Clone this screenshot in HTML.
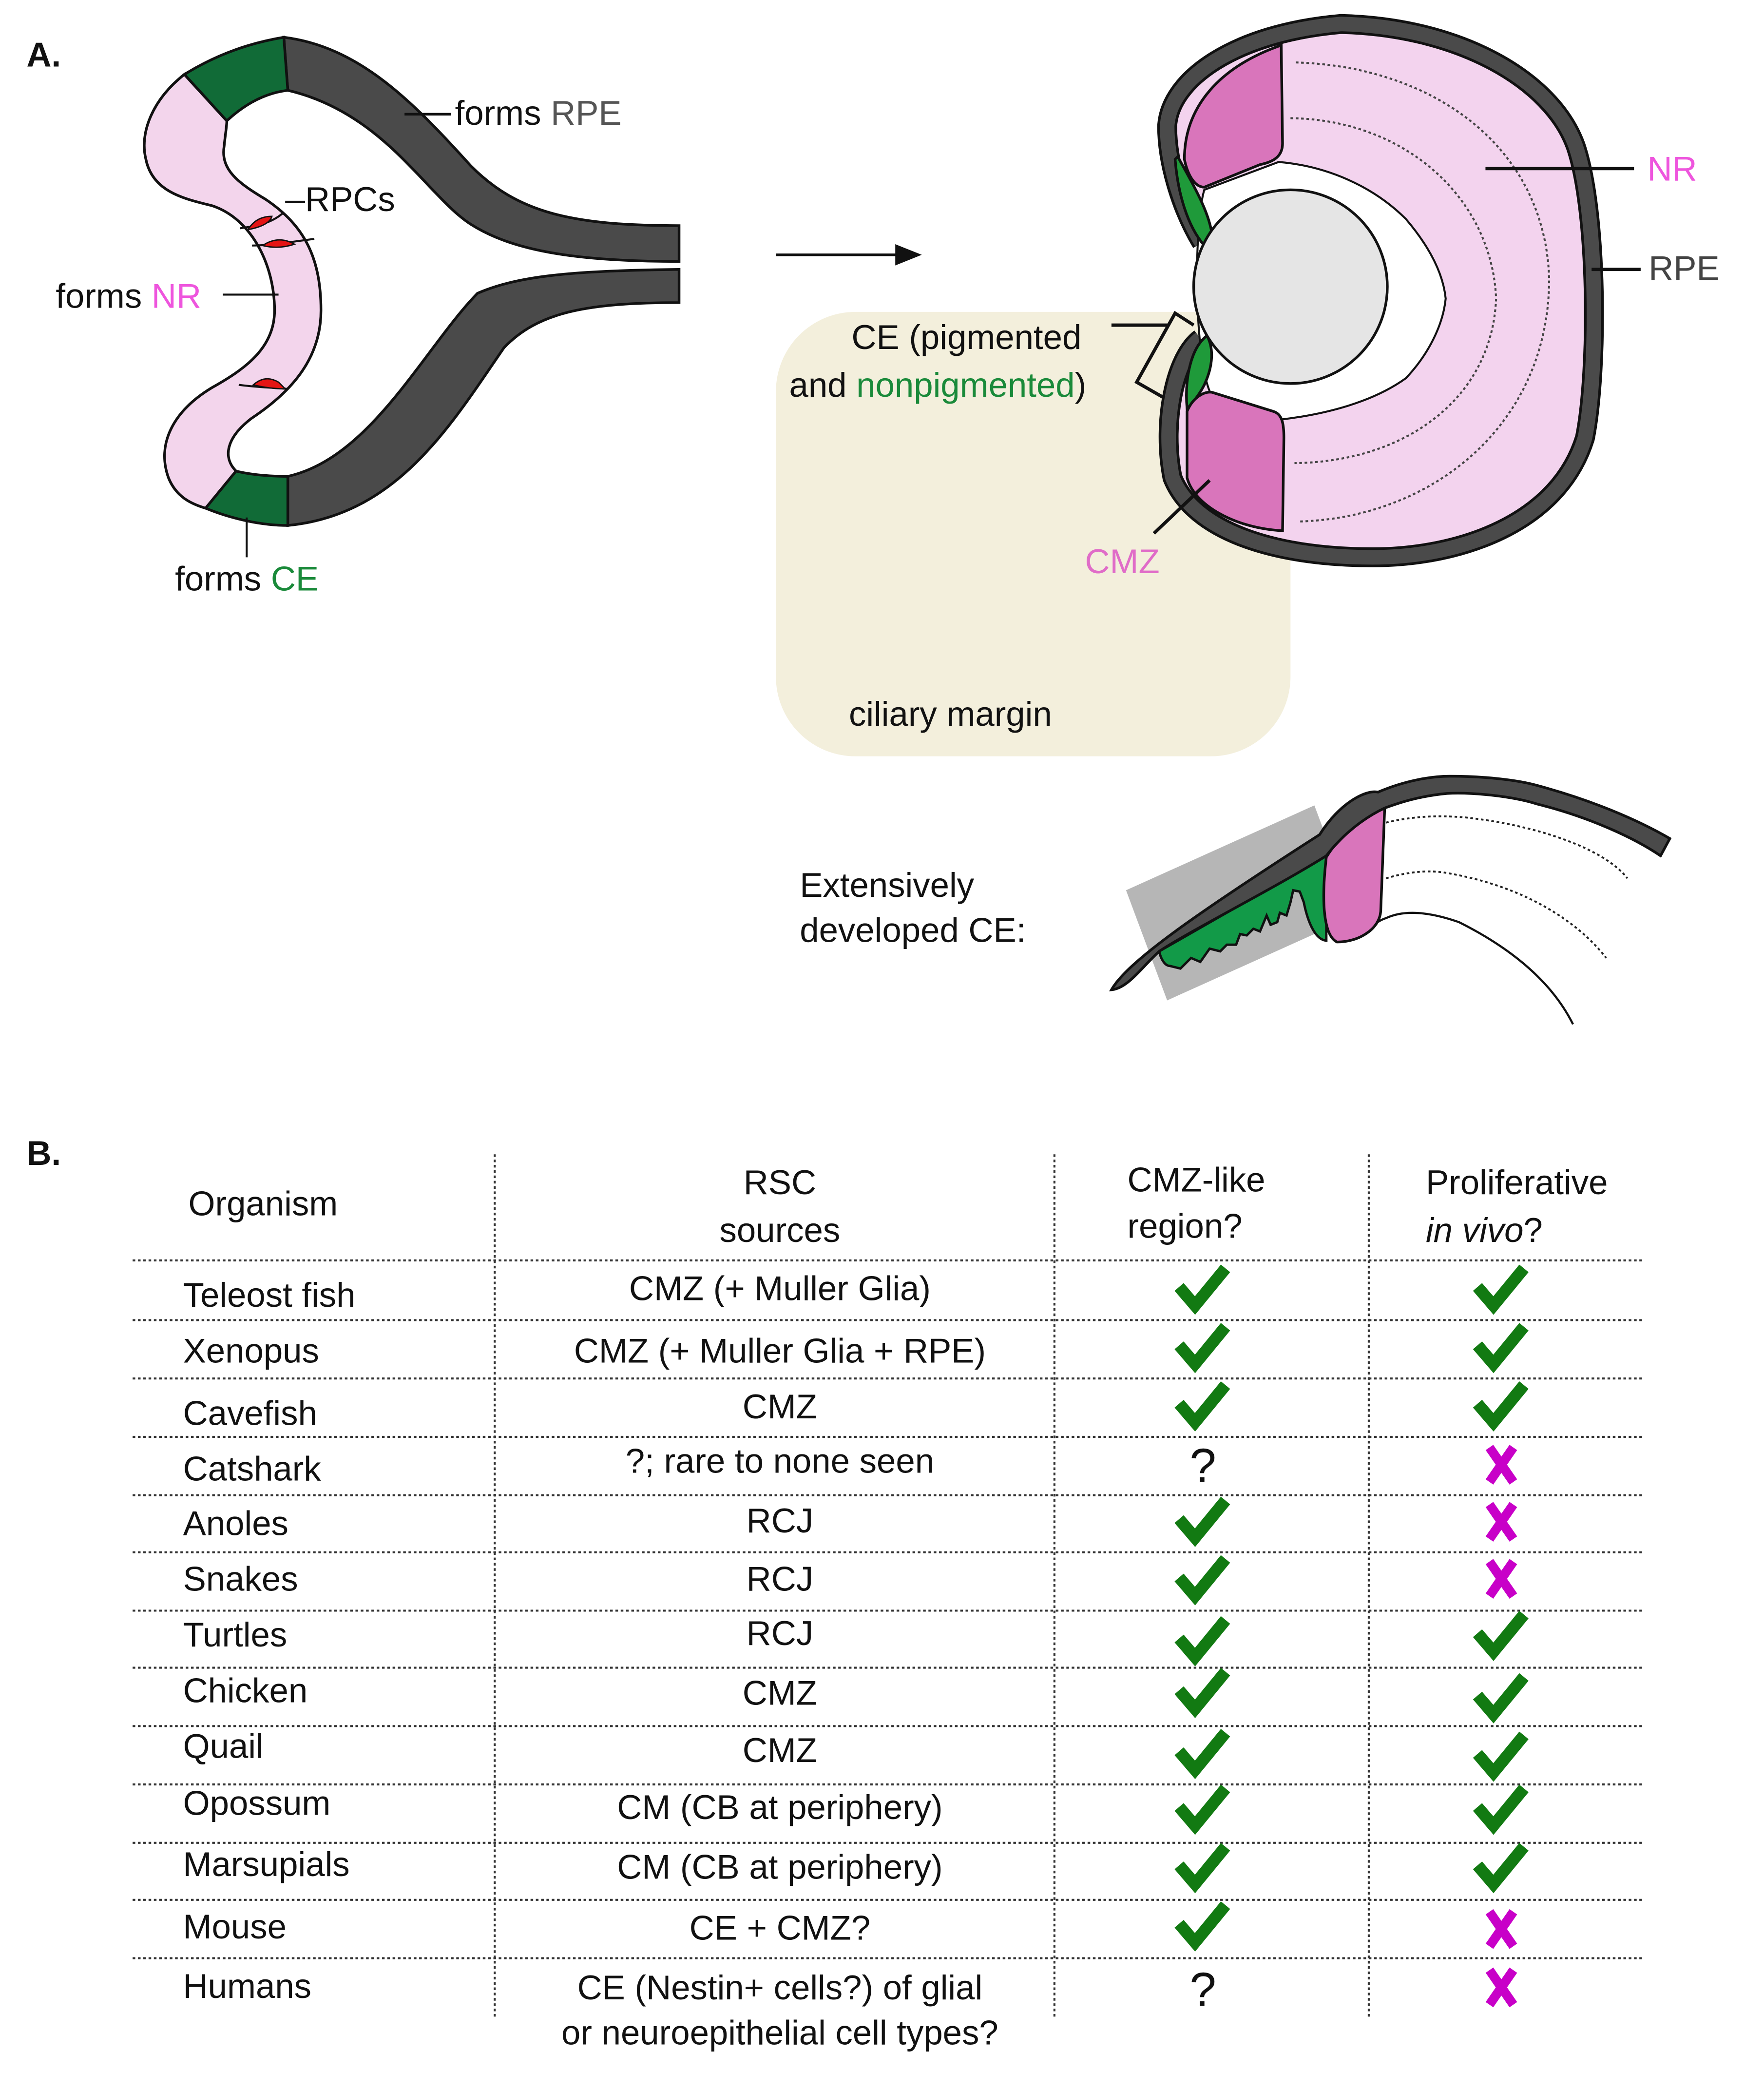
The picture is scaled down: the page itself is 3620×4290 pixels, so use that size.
<!DOCTYPE html>
<html><head><meta charset="utf-8"><style>
html,body{margin:0;padding:0;background:#fff}
svg{display:block}
text{font-family:"Liberation Sans",Arial,sans-serif;font-size:26px;fill:#111}
</style></head><body>
<svg width="3620" height="4290" viewBox="0 0 1330 1576" xmlns="http://www.w3.org/2000/svg">
<defs>
<g id="ck"><path d="M-18,-2 L-6,12 L17,-16" fill="none" stroke="#127a12" stroke-width="9" stroke-linejoin="miter" stroke-linecap="butt"/></g>
<g id="xx"><path d="M-9,-13 Q0,0 9,13 M9,-13 Q0,0 -9,13" fill="none" stroke="#c800c8" stroke-width="7"/></g>
</defs>
<text x="20" y="50" style="font-weight:bold">A.</text>
<text x="20" y="878" style="font-weight:bold">B.</text>

<!-- Left optic vesicle -->
<path d="M214,28 C270,35 310,75 355,125 C390,160 430,170 512,170 L512,197 C430,197 385,188 355,169 C322,148 290,85 217,68 Z" fill="#4a4a4a" stroke="#111" stroke-width="2"/>
<path d="M217,359 C280,345 320,262 360,221 C390,208 430,204 512,203 L512,228 C440,228 405,236 380,262 C340,320 300,388 217,396 Z" fill="#4a4a4a" stroke="#111" stroke-width="2"/>
<path d="M139,56 C115,75 105,100 110,120 C115,145 140,150 160,155 C190,165 207,200 207,234 C207,262 185,278 160,292 C130,310 118,335 127,360 C133,375 145,380 155,383 L178,355 C168,345 170,330 190,315 C220,295 242,270 242,234 C242,195 230,170 200,150 C180,138 166,128 169,110 C170,100 171,95 171,91 Z" fill="#f3d5ec" stroke="#111" stroke-width="2"/>
<path d="M139,56 C165,40 190,32 214,28 L217,68 C200,70 185,78 171,91 Z" fill="#116b37" stroke="#111" stroke-width="2"/>
<path d="M155,383 L178,355 C190,358 205,359 217,359 L217,396 C195,396 172,390 155,383 Z" fill="#116b37" stroke="#111" stroke-width="2"/>
<path d="M181,172 C195,170 205,168 214,160 M190,185 C205,185 220,182 237,180 M180,290 C195,292 205,292 216,293" stroke="#111" fill="none" stroke-width="1.5"/>
<path d="M187,173 Q193,163 205,163 Q203,170 187,173 Z" fill="#e51414" stroke="#111" stroke-width="1"/>
<path d="M198,185 Q210,177 222,184 Q210,188 198,185 Z" fill="#e51414" stroke="#111" stroke-width="1"/>
<path d="M191,290 Q200,282 210,288 L215,293 Q203,293 191,290 Z" fill="#e51414" stroke="#111" stroke-width="1"/>
<line x1="215" y1="152" x2="230" y2="152" stroke="#111" stroke-width="1.5"/>
<line x1="305" y1="86" x2="340" y2="86" stroke="#111" stroke-width="2"/>
<text x="343" y="94">forms <tspan style="fill:#555">RPE</tspan></text>
<text x="230" y="159">RPCs</text>
<text x="42" y="232">forms <tspan style="fill:#ee55dd">NR</tspan></text>
<line x1="168" y1="222" x2="210" y2="222" stroke="#111" stroke-width="1.5"/>
<line x1="186" y1="390" x2="186" y2="420" stroke="#111" stroke-width="1.5"/>
<text x="132" y="445">forms <tspan style="fill:#1a8a3a">CE</tspan></text>

<!-- arrow -->
<line x1="585" y1="192" x2="682" y2="192" stroke="#111" stroke-width="2"/>
<path d="M695,192 L675,184 L675,200 Z" fill="#111"/>

<!-- beige -->
<rect x="585" y="235" width="388" height="335" rx="60" fill="#f3efdc"/>

<!-- eye -->
<path d="M906,183 C892,160 880,125 880,95 C882,60 930,25 1011,18 C1100,20 1170,60 1188,110 C1205,160 1205,280 1195,330 C1175,395 1100,420 1035,420 C960,420 900,400 884,360 C876,320 885,270 905,255" fill="#f3d3ee" stroke="#111" stroke-width="15"/>
<path d="M906,183 C892,160 880,125 880,95 C882,60 930,25 1011,18 C1100,20 1170,60 1188,110 C1205,160 1205,280 1195,330 C1175,395 1100,420 1035,420 C960,420 900,400 884,360 C876,320 885,270 905,255" fill="none" stroke="#4a4a4a" stroke-width="11"/>
<g fill="none" stroke="#444" stroke-width="1.5" stroke-dasharray="2,2">
<path d="M977,47 C1080,50 1165,110 1168,210 C1168,320 1080,390 980,393"/>
<path d="M973,89 C1060,90 1125,150 1128,225 C1125,300 1060,348 976,349"/>
</g>
<path d="M908,143 L964,122 C1000,125 1035,140 1060,165 C1077,185 1088,205 1090,225 C1088,245 1077,267 1060,285 C1035,303 1000,312 967,316 L913,297 C900,270 900,170 908,143 Z" fill="#fff" stroke="#111" stroke-width="1.5"/>
<path d="M888,118 C900,140 912,160 914,178 L908,185 C895,170 888,145 886,120 Z" fill="#1f9a3a" stroke="#111" stroke-width="2"/>
<path d="M910,253 C915,262 915,275 908,290 C904,298 898,305 895,308 C893,285 898,262 910,253 Z" fill="#1f9a3a" stroke="#111" stroke-width="2"/>
<path d="M893,120 C893,80 920,50 966,34 L967,108 C967,118 960,122 950,124 L908,141 C900,141 895,130 893,120 Z" fill="#d975bb" stroke="#111" stroke-width="2"/>
<path d="M895,310 C900,298 910,294 915,296 L960,310 C967,312 968,320 968,330 L967,400 C930,398 900,380 895,360 Z" fill="#d975bb" stroke="#111" stroke-width="2"/>
<circle cx="973" cy="216" r="73" fill="#e5e5e5" stroke="#111" stroke-width="2"/>
<line x1="1120" y1="127" x2="1232" y2="127" stroke="#111" stroke-width="2.5"/>
<text x="1242" y="136" style="fill:#ee55dd">NR</text>
<line x1="1200" y1="203" x2="1237" y2="203" stroke="#111" stroke-width="2.5"/>
<text x="1243" y="211" style="fill:#444">RPE</text>
<text x="642" y="263">CE (pigmented</text>
<text x="595" y="299">and <tspan style="fill:#1a8a3a">nonpigmented</tspan>)</text>
<path d="M838,245 L881,245 M900,245 L886,236 L857,288 L878,300" fill="none" stroke="#111" stroke-width="2.5"/>
<line x1="870" y1="402" x2="912" y2="362" stroke="#111" stroke-width="2.5"/>
<text x="818" y="432" style="fill:#e06cc8">CMZ</text>
<text x="640" y="547">ciliary margin</text>

<!-- bottom CE -->
<text x="603" y="676">Extensively</text>
<text x="603" y="710">developed CE:</text>
<polygon points="849,671 991,607 1022,690 880,754" fill="#b6b6b6"/>
<path d="M1045,620 C1070,614 1090,615 1104,616 C1160,622 1210,640 1227,662" fill="none" stroke="#222" stroke-width="1.4" stroke-dasharray="2,2"/>
<path d="M1045,662 C1065,656 1080,656 1091,658 C1150,668 1190,695 1211,722" fill="none" stroke="#222" stroke-width="1.4" stroke-dasharray="2,2"/>
<path d="M1008,710 C1025,708 1035,695 1045,692 C1060,685 1080,688 1100,695 C1140,715 1170,740 1186,772" fill="none" stroke="#111" stroke-width="1.6"/>
<path d="M874,717 L1000,645 C1000,670 1000,690 1000,709 C990,708 985,690 983,680 L980,672 L975,671 L973,680 L970,690 L965,688 L963,695 L958,697 L955,690 L950,702 L945,700 L940,705 L935,704 L932,712 L925,712 L920,717 L912,715 L905,725 L898,722 L890,730 L882,728 C878,728 875,722 874,717 Z" fill="#129a48" stroke="#111" stroke-width="1.8"/>
<path d="M1000,646 C1010,630 1025,615 1044,609 L1041,687 C1040,700 1025,710 1008,710 C998,705 996,680 1000,646 Z" fill="#d975bb" stroke="#111" stroke-width="2"/>
<path d="M838,746 C850,725 900,690 995,629 C1010,605 1030,595 1039,597 C1060,588 1080,585 1093,585 C1120,585 1145,588 1159,592 C1200,603 1235,618 1259,632 L1252,645 C1230,630 1195,615 1159,606 C1140,600 1110,597 1091,598 C1070,600 1055,605 1044,609 C1025,618 1010,632 1000,645 C960,670 900,700 874,717 C860,730 850,745 838,746 Z" fill="#4a4a4a" stroke="#111" stroke-width="2"/>

<!-- table -->
<g stroke="#333" stroke-width="1.5" stroke-dasharray="2,2" fill="none">
<line x1="373" y1="870" x2="373" y2="1522"/>
<line x1="795" y1="870" x2="795" y2="1522"/>
<line x1="1032" y1="870" x2="1032" y2="1522"/>
<line x1="100" y1="950" x2="1240" y2="950"/>
<line x1="100" y1="995" x2="1240" y2="995"/>
<line x1="100" y1="1039" x2="1240" y2="1039"/>
<line x1="100" y1="1083" x2="1240" y2="1083"/>
<line x1="100" y1="1127" x2="1240" y2="1127"/>
<line x1="100" y1="1170" x2="1240" y2="1170"/>
<line x1="100" y1="1214" x2="1240" y2="1214"/>
<line x1="100" y1="1257" x2="1240" y2="1257"/>
<line x1="100" y1="1301" x2="1240" y2="1301"/>
<line x1="100" y1="1345" x2="1240" y2="1345"/>
<line x1="100" y1="1389" x2="1240" y2="1389"/>
<line x1="100" y1="1432" x2="1240" y2="1432"/>
<line x1="100" y1="1476" x2="1240" y2="1476"/>
</g>
<text x="142" y="916">Organism</text>
<text x="588" y="900" text-anchor="middle">RSC</text>
<text x="588" y="936" text-anchor="middle">sources</text>
<text x="850" y="898">CMZ-like</text>
<text x="850" y="933">region?</text>
<text x="1075" y="900">Proliferative</text>
<text x="1075" y="936"><tspan style="font-style:italic">in vivo</tspan>?</text>

<g>
<text x="138" y="985">Teleost fish</text><text x="588" y="980" text-anchor="middle">CMZ (+ Muller Glia)</text>
<text x="138" y="1027">Xenopus</text><text x="588" y="1027" text-anchor="middle">CMZ (+ Muller Glia + RPE)</text>
<text x="138" y="1074">Cavefish</text><text x="588" y="1069" text-anchor="middle">CMZ</text>
<text x="138" y="1116">Catshark</text><text x="588" y="1110" text-anchor="middle">?; rare to none seen</text>
<text x="138" y="1157">Anoles</text><text x="588" y="1155" text-anchor="middle">RCJ</text>
<text x="138" y="1199">Snakes</text><text x="588" y="1199" text-anchor="middle">RCJ</text>
<text x="138" y="1241">Turtles</text><text x="588" y="1240" text-anchor="middle">RCJ</text>
<text x="138" y="1283">Chicken</text><text x="588" y="1285" text-anchor="middle">CMZ</text>
<text x="138" y="1325">Quail</text><text x="588" y="1328" text-anchor="middle">CMZ</text>
<text x="138" y="1368">Opossum</text><text x="588" y="1371" text-anchor="middle">CM (CB at periphery)</text>
<text x="138" y="1414">Marsupials</text><text x="588" y="1416" text-anchor="middle">CM (CB at periphery)</text>
<text x="138" y="1461">Mouse</text><text x="588" y="1462" text-anchor="middle">CE + CMZ?</text>
<text x="138" y="1506">Humans</text><text x="588" y="1507" text-anchor="middle">CE (Nestin+ cells?) of glial</text>
<text x="588" y="1541" text-anchor="middle">or neuroepithelial cell types?</text>
</g>
<use href="#ck" x="907" y="972"/><use href="#ck" x="1132" y="972"/>
<use href="#ck" x="907" y="1016"/><use href="#ck" x="1132" y="1016"/>
<use href="#ck" x="907" y="1060"/><use href="#ck" x="1132" y="1060"/>
<text x="907" y="1117" text-anchor="middle" style="font-size:36px">?</text><use href="#xx" x="1132" y="1104"/>
<use href="#ck" x="907" y="1147"/><use href="#xx" x="1132" y="1147"/>
<use href="#ck" x="907" y="1191"/><use href="#xx" x="1132" y="1190"/>
<use href="#ck" x="907" y="1237"/><use href="#ck" x="1132" y="1233"/>
<use href="#ck" x="907" y="1276"/><use href="#ck" x="1132" y="1280"/>
<use href="#ck" x="907" y="1322"/><use href="#ck" x="1132" y="1324"/>
<use href="#ck" x="907" y="1364"/><use href="#ck" x="1132" y="1364"/>
<use href="#ck" x="907" y="1408"/><use href="#ck" x="1132" y="1408"/>
<use href="#ck" x="907" y="1452"/><use href="#xx" x="1132" y="1454"/>
<text x="907" y="1512" text-anchor="middle" style="font-size:36px">?</text><use href="#xx" x="1132" y="1498"/>
</svg>
</body></html>
